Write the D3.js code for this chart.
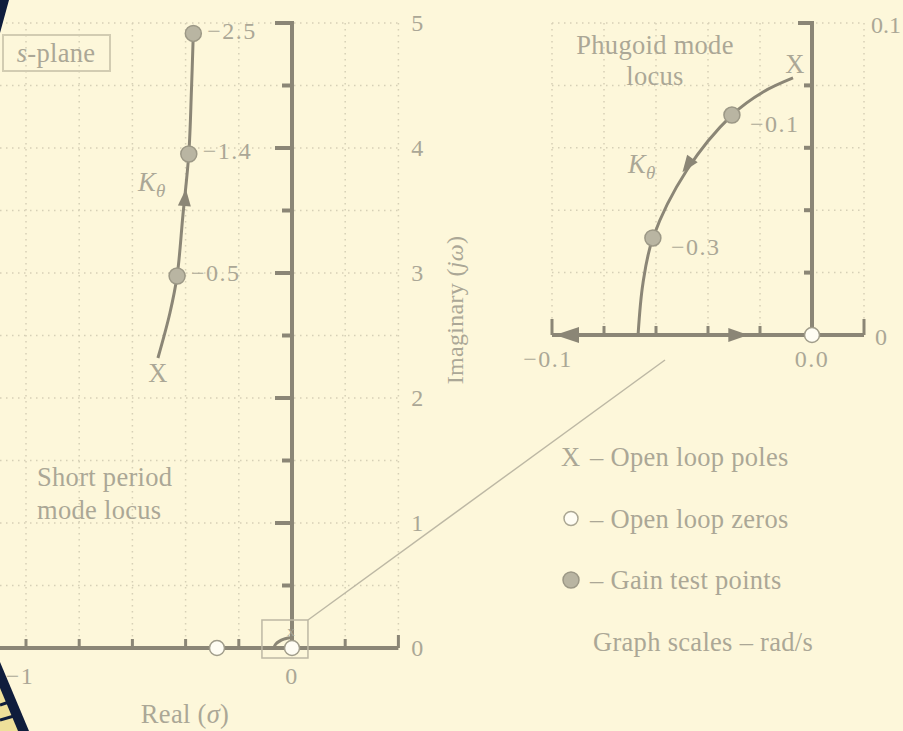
<!DOCTYPE html>
<html>
<head>
<meta charset="utf-8">
<script src="https://cdn.jsdelivr.net/npm/d3@7"></script>
<style>
  body { margin: 0; background: #fdf7da; }
  svg { display: block; }
  text { font-family: "Liberation Serif", "DejaVu Serif", serif; fill: #aba796; }
  .big { font-size: 26.5px; letter-spacing: 0.3px; }
  .tick { font-size: 24px; letter-spacing: 1.5px; }
</style>
</head>
<body>
<svg width="903" height="731"></svg>
<script>
// short period mode (main plot, rad/s)
var shortPole = [-0.504, 2.32];
var shortLocus = [[-0.504, 2.32], [-0.459, 2.68], [-0.432, 2.976], [-0.41, 3.464],
                  [-0.388, 3.952], [-0.378, 4.464], [-0.371, 4.917]];
var shortGains = [{k: '\u22120.5', re: -0.432, im: 2.976},
                  {k: '\u22121.4', re: -0.388, im: 3.952},
                  {k: '\u22122.5', re: -0.371, im: 4.917}];
var mainZeros = [-0.282, 0];
var mainXTicks = [-1, -0.8, -0.6, -0.4, -0.2, 0, 0.2, 0.4];
var mainYTicks = [0, 0.5, 1, 1.5, 2, 2.5, 3, 3.5, 4, 4.5, 5];
var mainYLabels = [0, 1, 2, 3, 4, 5];

// phugoid mode (inset)
var phugPole = [-0.0073, 0.0824];
var phugLocus = [[-0.0073, 0.0824], [-0.0188, 0.0779], [-0.0308, 0.0705], [-0.0481, 0.0529],
                 [-0.0612, 0.0311], [-0.065, 0.0167], [-0.0669, 0]];
var phugGains = [{k: '\u22120.1', re: -0.0308, im: 0.0705},
                 {k: '\u22120.3', re: -0.0612, im: 0.0311}];
var insetXTicks = [-0.1, -0.08, -0.06, -0.04, -0.02, 0, 0.02];
var insetYTicks = [0, 0.02, 0.04, 0.06, 0.08, 0.1];

var legendItems = ['X', 'zero', 'gain', 'scale'];
var legendText = ['\u2013 Open loop poles', '\u2013 Open loop zeros', '\u2013 Gain test points', 'Graph scales \u2013 rad/s'];

var axisCol = '#8b8676',
    gridCol = '#d6d0b6',
    gainFill = '#b9b5a2',
    gainStroke = '#9c9886';

var svg = d3.select('svg');

svg.append('rect').attr('width', 903).attr('height', 731).attr('fill', '#fdf7da');

var x = d3.scaleLinear().domain([-1, 0]).range([26, 292]),
    y = d3.scaleLinear().domain([0, 5]).range([648, 23]);
var xi = d3.scaleLinear().domain([-0.1, 0]).range([552, 812]),
    yi = d3.scaleLinear().domain([0, 0.1]).range([335, 23]);

var line = d3.line().curve(d3.curveCatmullRom);

// ---- main grid
svg.append('g').selectAll('line').data(mainYTicks.filter(function(d) { return d > 0; }))
  .join('line')
  .attr('x1', 0).attr('x2', x(0.4))
  .attr('y1', function(d) { return y(d); }).attr('y2', function(d) { return y(d); })
  .attr('stroke', gridCol).attr('stroke-width', 1.5).attr('stroke-dasharray', '1.5,4.5');
svg.append('g').selectAll('line').data(mainXTicks.filter(function(d) { return d != 0; }))
  .join('line')
  .attr('x1', function(d) { return x(d); }).attr('x2', function(d) { return x(d); })
  .attr('y1', y(5)).attr('y2', y(0))
  .attr('stroke', gridCol).attr('stroke-width', 1.5).attr('stroke-dasharray', '1.5,4.5');

// ---- inset grid
svg.append('g').selectAll('line').data(insetYTicks.filter(function(d) { return d > 0; }))
  .join('line')
  .attr('x1', xi(-0.1)).attr('x2', xi(0.02))
  .attr('y1', function(d) { return yi(d); }).attr('y2', function(d) { return yi(d); })
  .attr('stroke', gridCol).attr('stroke-width', 1.5).attr('stroke-dasharray', '1.5,4.5');
svg.append('g').selectAll('line').data(insetXTicks.filter(function(d) { return d != 0; }))
  .join('line')
  .attr('x1', function(d) { return xi(d); }).attr('x2', function(d) { return xi(d); })
  .attr('y1', yi(0.1)).attr('y2', yi(0))
  .attr('stroke', gridCol).attr('stroke-width', 1.5).attr('stroke-dasharray', '1.5,4.5');

// ---- main axes
svg.append('line')
  .attr('x1', 0).attr('x2', x(0.4)).attr('y1', y(0)).attr('y2', y(0))
  .attr('stroke', axisCol).attr('stroke-width', 4);
svg.append('line')
  .attr('x1', x(0)).attr('x2', x(0)).attr('y1', y(5) - 2).attr('y2', y(0))
  .attr('stroke', axisCol).attr('stroke-width', 4);
svg.append('g').selectAll('line').data(mainXTicks.filter(function(d) { return d != 0; }))
  .join('line')
  .attr('x1', function(d) { return x(d); }).attr('x2', function(d) { return x(d); })
  .attr('y1', y(0)).attr('y2', function(d) { return d == 0.4 ? y(0) - 13 : y(0) - 9; })
  .attr('stroke', axisCol).attr('stroke-width', 3);
svg.append('g').selectAll('line').data(mainYTicks.filter(function(d) { return d > 0; }))
  .join('line')
  .attr('x1', x(0)).attr('x2', function(d) { return d % 1 == 0 ? x(0) - 17 : x(0) - 10; })
  .attr('y1', function(d) { return y(d); }).attr('y2', function(d) { return y(d); })
  .attr('stroke', axisCol).attr('stroke-width', 4);

svg.append('g').selectAll('text').data(mainYLabels)
  .join('text').attr('class', 'tick')
  .attr('x', 418).attr('y', function(d) { return y(d); }).attr('dy', '0.35em')
  .attr('text-anchor', 'middle')
  .text(function(d) { return d; });
svg.append('text').attr('class', 'tick').attr('x', x(-1) - 6).attr('y', 676).attr('dy', '0.35em')
  .attr('text-anchor', 'middle').text('\u22121');
svg.append('text').attr('class', 'tick').attr('x', x(0)).attr('y', 676).attr('dy', '0.35em')
  .attr('text-anchor', 'middle').text('0');

var rl = svg.append('text').attr('class', 'big').attr('x', 185).attr('y', 714).attr('dy', '0.35em')
  .attr('text-anchor', 'middle');
rl.append('tspan').text('Real (');
rl.append('tspan').attr('font-style', 'italic').text('\u03c3');
rl.append('tspan').text(')');

var il = svg.append('text').attr('class', 'big').attr('transform', 'translate(455,310) rotate(-90)')
  .attr('dy', '0.35em').attr('text-anchor', 'middle').style('font-size', '24px');
il.append('tspan').text('Imaginary (');
il.append('tspan').attr('font-style', 'italic').text('j\u03c9');
il.append('tspan').text(')');

// s-plane box
svg.append('rect').attr('x', 3).attr('y', 35).attr('width', 107).attr('height', 36)
  .attr('fill', 'none').attr('stroke', '#d2ccb2').attr('stroke-width', 2);
var sp = svg.append('text').attr('class', 'big').attr('x', 56).attr('y', 53).attr('dy', '0.35em')
  .attr('text-anchor', 'middle');
sp.append('tspan').attr('font-style', 'italic').text('s');
sp.append('tspan').text('-plane');

svg.append('text').attr('class', 'big').attr('x', 37).attr('y', 477).attr('dy', '0.35em').text('Short period');
svg.append('text').attr('class', 'big').attr('x', 37).attr('y', 510).attr('dy', '0.35em').text('mode locus');

// short period locus
svg.append('path')
  .attr('d', line(shortLocus.map(function(p) { return [x(p[0]), y(p[1])]; })))
  .attr('fill', 'none').attr('stroke', axisCol).attr('stroke-width', 3);
svg.append('path')
  .attr('d', 'M0,-9L6.5,8L-6.5,8Z')
  .attr('transform', 'translate(' + x(-0.402) + ',' + y(3.6) + ') rotate(5)')
  .attr('fill', axisCol);
svg.append('text').attr('class', 'big').attr('x', x(shortPole[0])).attr('y', y(shortPole[1]) + 15).attr('dy', '0.35em')
  .attr('text-anchor', 'middle').text('X');
svg.selectAll('.sg').data(shortGains).join('circle').attr('class', 'sg')
  .attr('cx', function(d) { return x(d.re); }).attr('cy', function(d) { return y(d.im); })
  .attr('r', 8).attr('fill', gainFill).attr('stroke', gainStroke).attr('stroke-width', 1.5);
svg.selectAll('.sgl').data(shortGains).join('text').attr('class', 'tick')
  .attr('x', function(d) { return x(d.re) + 14; }).attr('y', function(d) { return y(d.im) - 3; })
  .attr('dy', '0.35em').text(function(d) { return d.k; });
var k1 = svg.append('text').attr('class', 'big').attr('x', 138).attr('y', 182).attr('dy', '0.35em').attr('font-style', 'italic');
k1.append('tspan').text('K');
k1.append('tspan').attr('dy', 6).style('font-size', '19px').text('\u03b8');

// mini phugoid inside zoom box
svg.append('path')
  .attr('d', line(phugLocus.map(function(p) { return [x(p[0]), y(p[1])]; })))
  .attr('fill', 'none').attr('stroke', axisCol).attr('stroke-width', 3);
svg.append('text').attr('x', x(phugPole[0]) + 1).attr('y', y(phugPole[1]) - 6).attr('dy', '0.35em')
  .attr('text-anchor', 'middle').attr('font-size', 11).text('X');

svg.selectAll('.mz').data(mainZeros).join('circle').attr('class', 'mz')
  .attr('cx', function(d) { return x(d); }).attr('cy', y(0))
  .attr('r', 7.5).attr('fill', '#fffdf3').attr('stroke', '#a09c8a').attr('stroke-width', 1.5);

// zoom box and connector
svg.append('rect').attr('x', x(-0.113)).attr('y', y(0.224))
  .attr('width', x(0.06) - x(-0.113)).attr('height', y(-0.08) - y(0.224))
  .attr('fill', 'none').attr('stroke', '#bdb8a4').attr('stroke-width', 1.5);
svg.append('line').attr('x1', x(0.06)).attr('y1', y(0.224)).attr('x2', 665).attr('y2', 360)
  .attr('stroke', '#bdb8a4').attr('stroke-width', 1.5);

// ---- inset axes
svg.append('line').attr('x1', xi(-0.1)).attr('x2', xi(0.02)).attr('y1', yi(0)).attr('y2', yi(0))
  .attr('stroke', axisCol).attr('stroke-width', 4);
svg.append('line').attr('x1', xi(0)).attr('x2', xi(0)).attr('y1', yi(0.1) - 2).attr('y2', yi(0))
  .attr('stroke', axisCol).attr('stroke-width', 4);
svg.append('g').selectAll('line').data(insetXTicks.filter(function(d) { return d != 0; }))
  .join('line')
  .attr('x1', function(d) { return xi(d); }).attr('x2', function(d) { return xi(d); })
  .attr('y1', yi(0)).attr('y2', function(d) { return (d == -0.1 || d == 0.02) ? yi(0) - 16 : yi(0) - 9; })
  .attr('stroke', axisCol).attr('stroke-width', 3);
svg.append('g').selectAll('line').data(insetYTicks.filter(function(d) { return d > 0; }))
  .join('line')
  .attr('x1', xi(0)).attr('x2', function(d) { return d == 0.1 ? xi(0) - 14 : xi(0) - 8; })
  .attr('y1', function(d) { return yi(d); }).attr('y2', function(d) { return yi(d); })
  .attr('stroke', axisCol).attr('stroke-width', 4);
// real-axis locus arrows
svg.append('path').attr('d', 'M0,0L24,-8L24,8Z')
  .attr('transform', 'translate(' + (xi(-0.1) + 3) + ',' + yi(0) + ')').attr('fill', axisCol);
svg.append('path').attr('d', 'M0,0L-20,-7L-20,7Z')
  .attr('transform', 'translate(' + xi(-0.0245) + ',' + yi(0) + ')').attr('fill', axisCol);

svg.append('text').attr('class', 'tick').attr('x', xi(-0.1) - 4).attr('y', 359).attr('dy', '0.35em')
  .attr('text-anchor', 'middle').text('\u22120.1');
svg.append('text').attr('class', 'tick').attr('x', xi(0)).attr('y', 359).attr('dy', '0.35em')
  .attr('text-anchor', 'middle').text('0.0');
svg.append('text').attr('class', 'tick').attr('x', 901).attr('y', yi(0.1) + 2).attr('dy', '0.35em')
  .attr('text-anchor', 'end').style('letter-spacing', '0px').text('0.1');
svg.append('text').attr('class', 'tick').attr('x', 875).attr('y', yi(0) + 2).attr('dy', '0.35em')
  .text('0');

svg.append('text').attr('class', 'big').attr('x', 655).attr('y', 45).attr('dy', '0.35em')
  .attr('text-anchor', 'middle').text('Phugoid mode');
svg.append('text').attr('class', 'big').attr('x', 655).attr('y', 76).attr('dy', '0.35em')
  .attr('text-anchor', 'middle').text('locus');

svg.append('path')
  .attr('d', line(phugLocus.map(function(p) { return [xi(p[0]), yi(p[1])]; })))
  .attr('fill', 'none').attr('stroke', axisCol).attr('stroke-width', 3);
svg.append('path').attr('d', 'M0,-9L6.5,8L-6.5,8Z')
  .attr('transform', 'translate(' + xi(-0.0478) + ',' + yi(0.0545) + ') rotate(-144)')
  .attr('fill', axisCol);
svg.append('text').attr('class', 'big').attr('x', xi(phugPole[0]) + 2).attr('y', yi(phugPole[1]) - 14).attr('dy', '0.35em')
  .attr('text-anchor', 'middle').text('X');
svg.selectAll('.pg').data(phugGains).join('circle').attr('class', 'pg')
  .attr('cx', function(d) { return xi(d.re); }).attr('cy', function(d) { return yi(d.im); })
  .attr('r', 8).attr('fill', gainFill).attr('stroke', gainStroke).attr('stroke-width', 1.5);
svg.selectAll('.pgl').data(phugGains).join('text').attr('class', 'tick')
  .attr('x', function(d) { return xi(d.re) + 18; }).attr('y', function(d) { return yi(d.im) + 9; })
  .attr('dy', '0.35em').text(function(d) { return d.k; });
var k2 = svg.append('text').attr('class', 'big').attr('x', 628).attr('y', 164).attr('dy', '0.35em').attr('font-style', 'italic');
k2.append('tspan').text('K');
k2.append('tspan').attr('dy', 6).style('font-size', '19px').text('\u03b8');
svg.append('circle').attr('cx', xi(0)).attr('cy', yi(0)).attr('r', 7.5)
  .attr('fill', '#fffdf3').attr('stroke', '#a09c8a').attr('stroke-width', 1.5);

// ---- legend
var lg = svg.append('g');
legendItems.forEach(function(it, i) {
  var ly = 457 + i * 61.5;
  if (it == 'X') {
    lg.append('text').attr('class', 'big').attr('x', 561).attr('y', ly).attr('dy', '0.35em').text('X');
  } else if (it == 'zero') {
    lg.append('circle').attr('cx', 571).attr('cy', ly).attr('r', 7)
      .attr('fill', '#fffdf3').attr('stroke', '#aaa692').attr('stroke-width', 1.5);
  } else if (it == 'gain') {
    lg.append('circle').attr('cx', 571).attr('cy', ly).attr('r', 8)
      .attr('fill', gainFill).attr('stroke', gainStroke).attr('stroke-width', 1.5);
  }
  lg.append('text').attr('class', 'big').attr('x', it == 'scale' ? 593 : 590).attr('y', ly).attr('dy', '0.35em')
    .text(legendText[i]);
});

// dark page edges
svg.append('path').attr('d', 'M0,0L9,0L0,33Z').attr('fill', '#0f1d3c');
svg.append('path').attr('d', 'M0,662L29,731L0,731Z').attr('fill', '#0f1d3c');
svg.append('path').attr('d', 'M0,688L18,731L0,731Z').attr('fill', '#efe09a');
svg.append('path').attr('d', 'M0,705L9,702M0,720L14,716').attr('stroke', '#0f1d3c').attr('stroke-width', 3);
</script>
</body>
</html>
